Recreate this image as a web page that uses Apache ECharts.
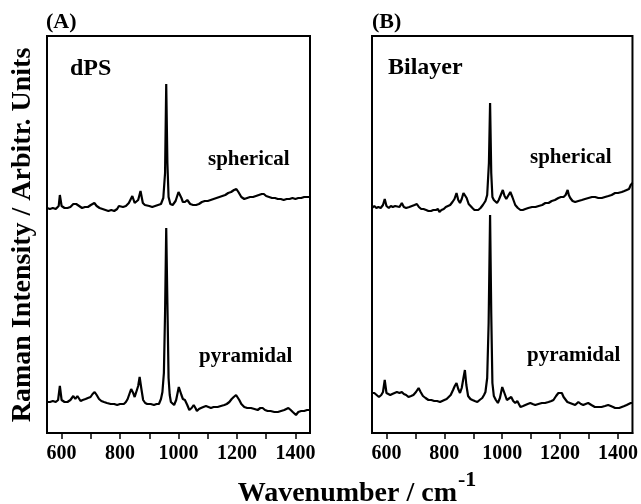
<!DOCTYPE html>
<html><head><meta charset="utf-8">
<script src="https://cdn.jsdelivr.net/npm/echarts@6/dist/echarts.min.js"></script>
<style>html,body{margin:0;padding:0;background:#fff}#c{width:641px;height:504px}</style>
</head><body><div id="c"></div>
<script>
// Wavenumber axis ticks/labels
const tickValues = [600,700,800,900,1000,1100,1200,1300,1400];
const labelValues = [600,800,1000,1200,1400];
// Panel (A) dPS, spherical: [wavenumber, intensity (a.u., offset)]
const dpsSpherical = [[550,225],[560,224],[570,225],[580,224],[590,227],[594,238],[600,227],[610,225],[620,225],[630,226],[640,229],[650,229],[660,227],[670,225],[680,226],[690,226],[700,228],[712,230],[720,227],[730,225],[740,224],[750,223],[760,222],[770,223],[780,222],[790,224],[796,227],[800,225],[810,226],[820,227],[830,230],[842,237],[850,230],[856,228],[862,233],[870,242],[878,230],[885,228],[890,227],[900,227],[910,226],[920,227],[930,228],[940,229],[948,235],[954,260],[958,349],[962,270],[966,236],[972,229],[980,228],[990,232],[1000,241],[1005,242],[1010,235],[1015,231],[1022,231],[1030,233],[1040,229],[1050,228],[1060,228],[1070,229],[1080,231],[1090,232],[1100,232],[1110,233],[1120,234],[1130,235],[1140,236],[1150,237],[1160,238],[1170,240],[1180,241],[1190,243],[1198,244],[1205,241],[1215,236],[1225,234],[1235,235],[1245,236],[1255,236],[1265,237],[1275,238],[1285,239],[1292,239],[1300,237],[1310,236],[1320,235],[1330,235],[1340,234],[1350,234],[1360,233],[1370,234],[1380,234],[1390,235],[1400,234],[1410,235],[1420,235],[1430,236],[1440,236],[1450,236]];
// Panel (A) dPS, pyramidal
const dpsPyramidal = [[550,31],[560,31],[570,32],[580,31],[588,33],[594,47],[600,33],[610,31],[620,31],[630,33],[640,37],[647,34],[654,37],[665,32],[672,33],[682,34],[690,35],[699,36],[706,39],[713,41],[720,38],[728,34],[736,32],[745,31],[755,30],[768,29],[780,29],[790,28],[800,29],[813,29],[820,31],[826,34],[832,39],[838,44],[845,40],[850,36],[856,38],[862,47],[867,56],[873,44],[879,33],[886,30],[893,29],[905,29],[916,28],[925,29],[933,29],[940,34],[945,41],[950,60],[954,120],[958,205],[962,130],[966,55],[970,38],[974,31],[980,29],[985,28],[992,33],[1001,46],[1005,45],[1010,38],[1015,34],[1022,33],[1030,28],[1037,23],[1045,25],[1052,28],[1058,25],[1063,22],[1070,24],[1077,25],[1085,26],[1094,27],[1100,26],[1111,25],[1120,26],[1134,26],[1145,27],[1157,28],[1165,29],[1174,31],[1182,34],[1189,36],[1197,38],[1203,36],[1208,33],[1215,29],[1225,26],[1235,25],[1248,25],[1260,24],[1271,23],[1280,25],[1288,25],[1296,23],[1305,22],[1315,22],[1328,21],[1340,21],[1351,22],[1362,23],[1376,25],[1384,23],[1391,21],[1397,19],[1402,18],[1410,21],[1420,22],[1430,22],[1440,23],[1450,23]];
// Panel (B) Bilayer, spherical
const bilSpherical = [[550,225],[558,227],[565,225],[572,226],[580,225],[588,228],[594,234],[600,227],[608,225],[615,227],[622,226],[630,227],[636,228],[645,226],[653,230],[660,226],[668,225],[679,226],[688,227],[697,228],[705,229],[712,226],[720,224],[728,224],[737,223],[745,222],[754,222],[762,223],[771,223],[778,224],[783,221],[790,223],[798,224],[805,226],[811,226],[820,228],[828,231],[835,234],[842,240],[848,233],[854,230],[860,234],[866,240],[871,241],[877,235],[884,229],[890,227],[897,225],[904,223],[910,221],[917,223],[925,225],[933,228],[942,232],[948,238],[954,270],[958,330],[962,260],[966,236],[971,233],[976,231],[982,230],[988,233],[995,238],[1002,243],[1008,237],[1014,234],[1020,236],[1028,241],[1035,236],[1045,228],[1054,225],[1063,223],[1071,223],[1080,224],[1090,225],[1103,226],[1115,226],[1126,227],[1138,228],[1149,230],[1160,230],[1171,232],[1182,233],[1194,235],[1203,236],[1212,236],[1219,238],[1226,243],[1230,238],[1235,235],[1243,232],[1252,231],[1263,232],[1275,233],[1286,234],[1298,235],[1310,236],[1321,236],[1332,235],[1344,235],[1355,236],[1367,237],[1378,238],[1390,240],[1400,240],[1413,241],[1422,242],[1430,243],[1438,244],[1444,248],[1450,250]];
// Panel (B) Bilayer, pyramidal
const bilPyramidal = [[550,40],[558,40],[566,38],[574,36],[582,38],[588,41],[594,53],[600,40],[606,39],[613,38],[620,39],[628,40],[636,41],[645,40],[653,41],[660,39],[668,38],[676,36],[685,37],[693,38],[702,41],[711,45],[718,41],[726,37],[735,35],[745,33],[755,33],[765,32],[775,32],[785,31],[791,31],[800,33],[808,34],[814,35],[822,38],[830,43],[836,47],[842,50],[848,44],[854,40],[860,45],[866,55],[871,63],[876,48],[882,37],[890,34],[897,33],[905,32],[914,31],[922,33],[931,35],[937,38],[942,41],[948,55],[953,110],[958,218],[962,120],[966,50],[971,37],[978,33],[985,30],[992,35],[1000,46],[1004,45],[1010,38],[1016,33],[1022,33],[1031,36],[1038,32],[1045,30],[1052,32],[1058,30],[1063,26],[1072,27],[1080,28],[1088,29],[1097,30],[1105,29],[1114,28],[1125,29],[1137,30],[1148,30],[1160,31],[1170,32],[1177,33],[1186,37],[1194,40],[1200,40],[1206,40],[1212,36],[1217,34],[1225,31],[1234,30],[1243,29],[1252,28],[1258,30],[1263,31],[1272,29],[1280,28],[1288,29],[1297,30],[1308,28],[1320,26],[1332,26],[1343,26],[1355,27],[1366,28],[1375,27],[1383,26],[1390,25],[1395,24],[1404,25],[1413,26],[1422,27],[1430,28],[1437,29],[1444,30],[1450,30]];

const FONT = '"Liberation Serif","DejaVu Serif",serif';
const chart = echarts.init(document.getElementById('c'), null, {renderer:'canvas'});

function xAxisFor(gi){
  return {
    type:'value', gridIndex:gi, min:550, max:1450,
    axisLine:{show:true, lineStyle:{color:'#000', width:2}},
    axisTick:{show:true, inside:false, length:6, customValues:tickValues, lineStyle:{color:'#000', width:1.5}},
    axisLabel:{show:true, customValues:labelValues, margin:11, color:'#000', fontFamily:FONT, fontWeight:'bold', fontSize:20,
      formatter:function(v){ return String(Math.round(v)); }},
    splitLine:{show:false}
  };
}
function yAxisFor(gi){
  return {type:'value', gridIndex:gi, min:0, max:397,
    axisLine:{show:false}, axisTick:{show:false}, axisLabel:{show:false}, splitLine:{show:false}};
}
function lineSeries(data, idx){
  return {type:'line', xAxisIndex:idx, yAxisIndex:idx, data:data, showSymbol:false, symbol:'none',
    smooth:false, clip:true, silent:true, animation:false,
    lineStyle:{color:'#000', width:2.2}};
}
function txt(t, x, y, size, opts){
  return Object.assign({type:'text', x:x, y:y, silent:true,
    style:{text:t, fill:'#000', font:'bold '+size+'px '+FONT, textAlign:'left', textVerticalAlign:'middle'}}, opts||{});
}

chart.setOption({
  animation:false,
  backgroundColor:'#fff',
  grid:[
    {left:47, top:36, width:263, height:397, show:true, borderColor:'#000', borderWidth:2, backgroundColor:'transparent'},
    {left:372, top:36, width:262, height:397, show:true, borderColor:'#000', borderWidth:2, backgroundColor:'transparent'}
  ],
  xAxis:[xAxisFor(0), xAxisFor(1)],
  yAxis:[yAxisFor(0), yAxisFor(1)],
  series:[lineSeries(dpsSpherical,0), lineSeries(dpsPyramidal,0), lineSeries(bilSpherical,1), lineSeries(bilPyramidal,1)],
  graphic:[
    txt('(A)', 46, 22, 22),
    txt('(B)', 372, 22, 22),
    txt('dPS', 70, 69, 24),
    txt('Bilayer', 388, 68, 24),
    txt('spherical', 208, 160, 21),
    txt('pyramidal', 199, 357, 21),
    txt('spherical', 530, 158, 21),
    txt('pyramidal', 527, 356, 21),
    {type:'text', x:23, y:235, rotation:Math.PI/2, silent:true,
      style:{text:'Raman Intensity / Arbitr. Units', fill:'#000', font:'bold 28px '+FONT, textAlign:'center', textVerticalAlign:'middle'}},
    {type:'text', x:457, y:494, silent:true,
      style:{text:'Wavenumber / cm', fill:'#000', font:'bold 28px '+FONT, textAlign:'right', textVerticalAlign:'middle'}},
    {type:'text', x:458, y:480, silent:true,
      style:{text:'-1', fill:'#000', font:'bold 22px '+FONT, textAlign:'left', textVerticalAlign:'middle'}}
  ]
});
</script></body></html>
